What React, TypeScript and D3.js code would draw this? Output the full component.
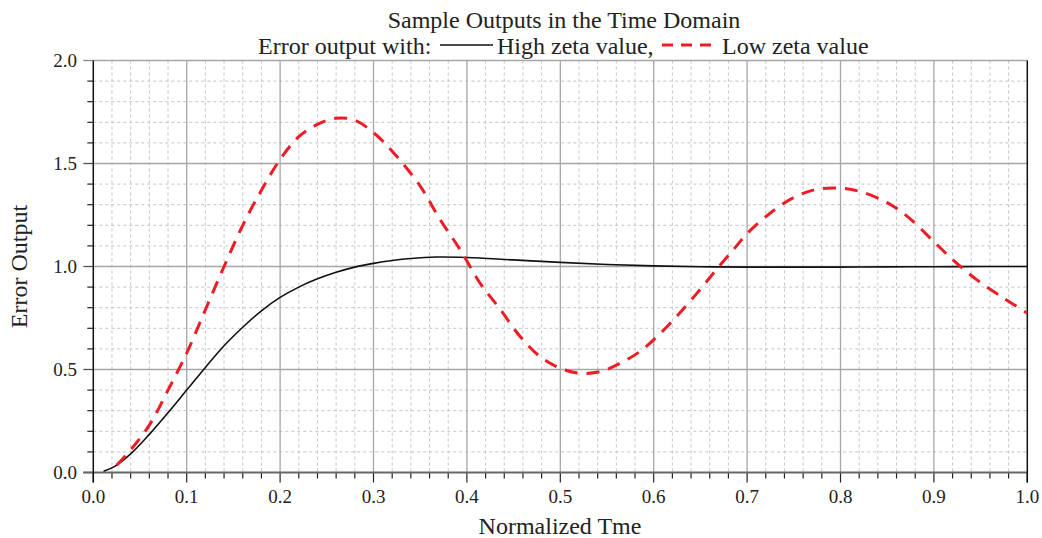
import React from "react";
import * as d3 from "d3";

const highT = [0.011, 0.023, 0.04, 0.06, 0.08, 0.1, 0.12, 0.14, 0.16, 0.18, 0.2, 0.22, 0.24, 0.26, 0.28, 0.3, 0.32, 0.34, 0.367, 0.4, 0.45, 0.5, 0.55, 0.6, 0.65, 0.7, 0.75, 0.8, 0.85, 0.9, 0.95, 1.0];
const highY = [0.006, 0.03, 0.09, 0.185, 0.29, 0.4, 0.51, 0.615, 0.705, 0.785, 0.85, 0.9, 0.94, 0.972, 0.997, 1.015, 1.029, 1.039, 1.046, 1.044, 1.032, 1.02, 1.01, 1.003, 0.999, 0.997, 0.997, 0.997, 0.998, 0.999, 1.0, 1.0];

const lowT = [0.025, 0.04, 0.06, 0.08, 0.1, 0.12, 0.14, 0.16, 0.18, 0.2, 0.22, 0.24, 0.26, 0.28, 0.3, 0.32, 0.35, 0.371, 0.393, 0.414, 0.436, 0.457, 0.479, 0.5, 0.521, 0.543, 0.564, 0.586, 0.607, 0.629, 0.65, 0.668, 0.686, 0.7, 0.725, 0.75, 0.775, 0.8, 0.821, 0.85, 0.875, 0.9, 0.921, 0.946, 0.975, 1.0];
const lowY = [0.035, 0.11, 0.23, 0.4, 0.58, 0.79, 1.0, 1.2, 1.37, 1.52, 1.63, 1.69, 1.72, 1.71, 1.65, 1.56, 1.39, 1.23, 1.08, 0.92, 0.79, 0.66, 0.56, 0.506, 0.482, 0.49, 0.53, 0.59, 0.675, 0.78, 0.89, 0.99, 1.085, 1.16, 1.26, 1.335, 1.375, 1.38, 1.364, 1.31, 1.23, 1.12, 1.03, 0.935, 0.846, 0.773];

const xTicks = [0, 0.1, 0.2, 0.3, 0.4, 0.5, 0.6, 0.7, 0.8, 0.9, 1.0];
const yTicks = [0, 0.5, 1.0, 1.5, 2.0];
const titleLine1 = "Sample Outputs in the Time Domain";
const legendPrefix = "Error output with:";
const seriesNames = ["High zeta value,", "Low zeta value"];
const xLabel = "Normalized Tme";
const yLabel = "Error Output";

const W = 1042, H = 538;
const L = 93.3, R = 1027.3, T = 60.5, B = 472.5;
const FONT = "'Liberation Serif', 'Times New Roman', serif";

export default function App() {
  const x = d3.scaleLinear().domain([0, 1]).range([L, R]);
  const y = d3.scaleLinear().domain([0, 2]).range([B, T]);
  const line = d3.line<number>().curve(d3.curveCatmullRom.alpha(0.5));
  const highPath = line(highT.map((t, i) => [x(t), y(highY[i])] as any) as any);
  const lowPath = line(lowT.map((t, i) => [x(t), y(lowY[i])] as any) as any);

  const xMinor = d3.range(0, 51).map((i) => i / 50).filter((v) => Math.round(v * 50) % 5 !== 0);
  const yMinor = d3.range(0, 21).map((i) => i / 10).filter((v) => Math.round(v * 10) % 5 !== 0);

  return (
    <svg width={W} height={H} style={{ position: "absolute", left: 0, top: 0, background: "#fff" }} fontFamily={FONT}>
      {xMinor.map((v) => (
        <line key={"xm" + v} x1={x(v)} x2={x(v)} y1={T} y2={B} stroke="#c4c4c4" strokeWidth={1} strokeDasharray="3 3" />
      ))}
      {yMinor.map((v) => (
        <line key={"ym" + v} x1={L} x2={R} y1={y(v)} y2={y(v)} stroke="#c4c4c4" strokeWidth={1} strokeDasharray="3 3" />
      ))}
      {xTicks.slice(1, -1).map((v) => (
        <line key={"xg" + v} x1={x(v)} x2={x(v)} y1={T} y2={B} stroke="#a6a6a6" strokeWidth={1.3} />
      ))}
      {yTicks.slice(1).map((v) => (
        <line key={"yg" + v} x1={L} x2={R} y1={y(v)} y2={y(v)} stroke="#a6a6a6" strokeWidth={1.3} />
      ))}
      {xMinor.map((v) => (
        <line key={"xmt" + v} x1={x(v)} x2={x(v)} y1={B} y2={B + 6} stroke="#222" strokeWidth={1.2} />
      ))}
      {xTicks.map((v) => (
        <line key={"xt" + v} x1={x(v)} x2={x(v)} y1={B} y2={B + 10} stroke="#222" strokeWidth={1.2} />
      ))}
      {yMinor.map((v) => (
        <line key={"ymt" + v} x1={L - 6} x2={L} y1={y(v)} y2={y(v)} stroke="#222" strokeWidth={1.2} />
      ))}
      {yTicks.map((v) => (
        <line key={"yt" + v} x1={L - 10} x2={L} y1={y(v)} y2={y(v)} stroke={v === 2 ? "#888" : "#555"} strokeWidth={1.3} />
      ))}
      <line x1={L - 10} x2={R} y1={B} y2={B} stroke="#666" strokeWidth={2} />
      <line x1={L} x2={L} y1={T} y2={B + 10} stroke="#111" strokeWidth={1.5} />
      <line x1={R} x2={R} y1={T} y2={B + 10} stroke="#111" strokeWidth={1.5} />
      <path d={highPath || ""} fill="none" stroke="#111" strokeWidth={1.6} />
      <path d={lowPath || ""} fill="none" stroke="#ee1d25" strokeWidth={3} strokeDasharray="13 9" />
      {xTicks.map((v) => (
        <text key={"xl" + v} x={x(v)} y={503} textAnchor="middle" fontSize={19} fill="#222">
          {v.toFixed(1)}
        </text>
      ))}
      {yTicks.map((v) => (
        <text key={"yl" + v} x={77} y={y(v) + 6.5} textAnchor="end" fontSize={19} fill="#222">
          {v.toFixed(1)}
        </text>
      ))}
      <text x={560} y={534} textAnchor="middle" fontSize={24} fill="#222">{xLabel}</text>
      <text transform={`translate(27,${(T + B) / 2}) rotate(-90)`} textAnchor="middle" fontSize={24} fill="#222">{yLabel}</text>
      <text x={564} y={28} textAnchor="middle" fontSize={24} fill="#222">{titleLine1}</text>
      <text x={258} y={54} fontSize={24} fill="#222">{legendPrefix}</text>
      <line x1={440} x2={493} y1={45} y2={45} stroke="#111" strokeWidth={1.6} />
      <text x={497} y={54} fontSize={24} fill="#222">{seriesNames[0]}</text>
      <line x1={662} x2={718} y1={45} y2={45} stroke="#ee1d25" strokeWidth={3} strokeDasharray="11 8" />
      <text x={722} y={54} fontSize={24} fill="#222">{seriesNames[1]}</text>
    </svg>
  );
}
